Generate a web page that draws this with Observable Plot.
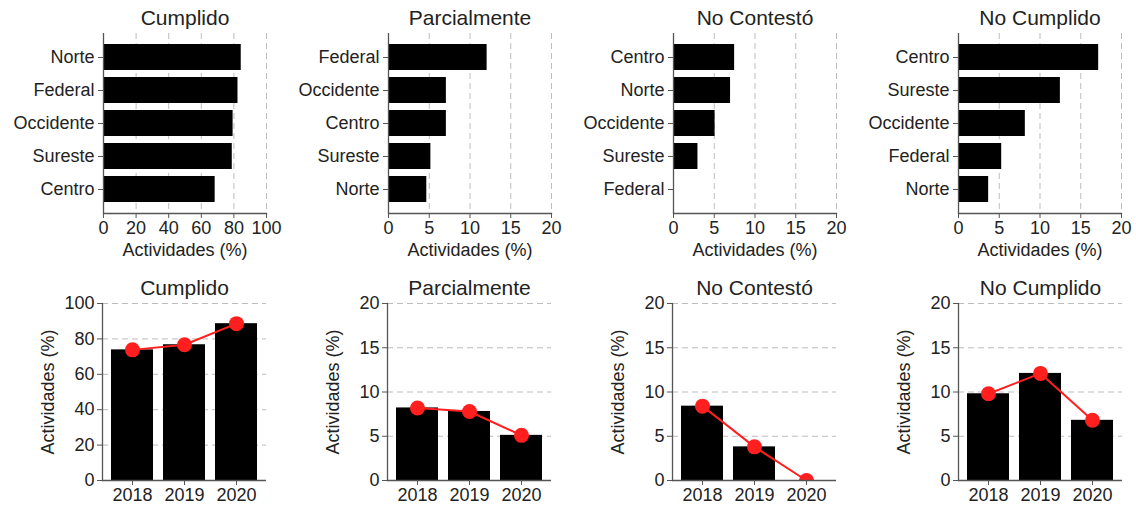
<!DOCTYPE html>
<html><head><meta charset="utf-8">
<script src="https://cdn.jsdelivr.net/npm/d3@7"></script>
<script src="https://cdn.jsdelivr.net/npm/@observablehq/plot@0.6"></script>
<style>
body{margin:0;background:#fff;}
#c{position:relative;width:1136px;height:508px;background:#fff;overflow:hidden;}
#c > svg{position:absolute;}
</style></head><body><div id="c"></div>
<script>
// ---- data ----
const titles = ["Cumplido", "Parcialmente", "No Contestó", "No Cumplido"];

const cumplidoRegions = ["Norte", "Federal", "Occidente", "Sureste", "Centro"];
const cumplidoRegionValues = [84.5, 82.5, 79.5, 79.0, 68.5];
const parcialRegions = ["Federal", "Occidente", "Centro", "Sureste", "Norte"];
const parcialRegionValues = [12.1, 7.1, 7.1, 5.2, 4.7];
const noContestoRegions = ["Centro", "Norte", "Occidente", "Sureste", "Federal"];
const noContestoRegionValues = [7.5, 7.0, 5.1, 3.0, 0.0];
const noCumplidoRegions = ["Centro", "Sureste", "Occidente", "Federal", "Norte"];
const noCumplidoRegionValues = [17.2, 12.5, 8.2, 5.3, 3.7];

const years = ["2018", "2019", "2020"];
const cumplidoYearValues = [73.8, 76.7, 88.6];
const parcialYearValues = [8.2, 7.8, 5.1];
const noContestoYearValues = [8.4, 3.8, 0.0];
const noCumplidoYearValues = [9.8, 12.1, 6.8];

const ticks100 = [0, 20, 40, 60, 80, 100];
const ticks20 = [0, 5, 10, 15, 20];
const axisLabel = "Actividades (%)";

// ---- layout ----
const regionSets = [
  [cumplidoRegions, cumplidoRegionValues, ticks100],
  [parcialRegions, parcialRegionValues, ticks20],
  [noContestoRegions, noContestoRegionValues, ticks20],
  [noCumplidoRegions, noCumplidoRegionValues, ticks20]
];
const yearSets = [
  [cumplidoYearValues, ticks100],
  [parcialYearValues, ticks20],
  [noContestoYearValues, ticks20],
  [noCumplidoYearValues, ticks20]
];
const lefts = [0, 285, 570, 855];
const container = document.getElementById("c");
const FONT = "'Liberation Sans', Arial, Helvetica, sans-serif";
const AX = "#555";
const RED = "#ff1f1f";

regionSets.forEach(([regions, values, ticks], i) => {
  const data = regions.map((r, k) => ({r, v: values[k]}));
  const svg = Plot.plot({
    width: 281, height: 260,
    marginLeft: 103, marginRight: 15, marginTop: 33, marginBottom: 47,
    x: {domain: [0, ticks[ticks.length - 1]]},
    y: {domain: regions, paddingInner: 0.2, paddingOuter: 0.27},
    style: {fontFamily: FONT, fontSize: "18px", color: "#222", background: "white", overflow: "visible"},
    marks: [
      Plot.gridX(ticks, {stroke: "#bdbdbd", strokeOpacity: 1, strokeDasharray: "6,4"}),
      Plot.barX(data, {x: "v", y: "r", fill: "black"}),
      Plot.ruleX([0], {stroke: AX, strokeWidth: 1.3}),
      Plot.frame({anchor: "bottom", stroke: AX, strokeWidth: 1.3}),
      Plot.axisX(ticks, {label: axisLabel, labelAnchor: "center", labelArrow: "none", tickSize: 5, tickPadding: 3, labelOffset: 42, stroke: AX}),
      Plot.axisY({label: null, tickSize: 5, tickPadding: 4, stroke: AX}),
      Plot.text([titles[i]], {frameAnchor: "top", lineAnchor: "top", dy: -23, fontSize: 21, fill: "#222"})
    ]
  });
  svg.style.left = lefts[i] + "px";
  svg.style.top = "0px";
  container.appendChild(svg);
});

yearSets.forEach(([values, ticks], i) => {
  const data = years.map((y, k) => ({year: y, v: values[k]}));
  const svg = Plot.plot({
    width: 281, height: 248,
    marginLeft: i === 3 ? 103 : 102, marginRight: i === 3 ? 14 : 15, marginTop: 43, marginBottom: 28,
    x: {domain: years, paddingInner: 0.2, paddingOuter: 0.16},
    y: {domain: [0, ticks[ticks.length - 1]]},
    style: {fontFamily: FONT, fontSize: "18px", color: "#222", background: "white", overflow: "visible"},
    marks: [
      Plot.gridY(ticks, {stroke: "#bdbdbd", strokeOpacity: 1, strokeDasharray: "6,4"}),
      Plot.barY(data, {x: "year", y: "v", fill: "black"}),
      Plot.line(data, {x: "year", y: "v", stroke: RED, strokeWidth: 2}),
      Plot.dot(data, {x: "year", y: "v", r: 7.5, fill: RED, clip: true}),
      Plot.ruleY([0], {stroke: AX, strokeWidth: 1.3}),
      Plot.frame({anchor: "left", stroke: AX, strokeWidth: 1.3}),
      Plot.axisY(ticks, {label: axisLabel, labelAnchor: "center", labelArrow: "none", tickSize: 5, tickPadding: 3, labelOffset: 61, stroke: AX}),
      Plot.axisX({label: null, tickSize: 5, tickPadding: 3, stroke: AX}),
      Plot.text([titles[i]], {frameAnchor: "top", lineAnchor: "top", dy: -23, fontSize: 21, fill: "#222"})
    ]
  });
  svg.style.left = lefts[i] + "px";
  svg.style.top = "260px";
  container.appendChild(svg);
});
</script>
</body></html>
